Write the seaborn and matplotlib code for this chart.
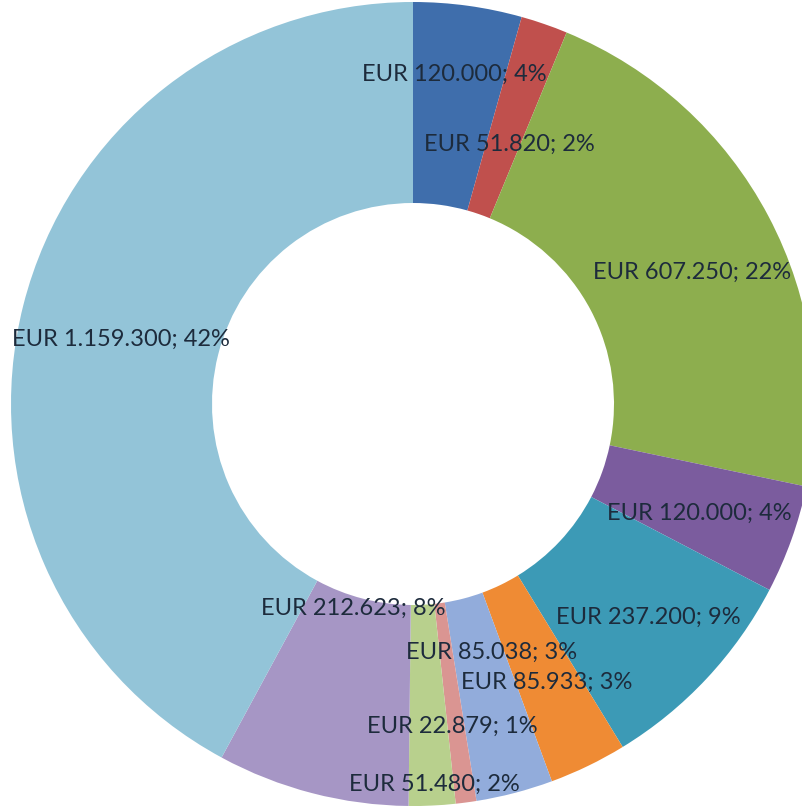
import numpy as np
import matplotlib
matplotlib.use("Agg")
import matplotlib.pyplot as plt
import seaborn as sns

# Values (clockwise from top)
values = [120000, 51820, 607250, 120000, 237200, 85933, 85038, 22879, 51480, 212623, 1159300]
colors = ["#3F6EAC", "#C0504D", "#8DAE4E", "#7B5C9E", "#3C9AB6", "#EF8B34",
          "#92ACDB", "#DA9592", "#B8D08D", "#A696C5", "#93C4D8"]

# label nudges in pixels (dx, dy) from the ring centre of each slice
label_nudge = [(0, 31), (-2, -25), (12, -9), (2, -8), (15, -8), (2, -7),
               (2, 43), (-1, -23), (7, -79), (16, 88), (0, -9)]

sns.set_style("white")
plt.rcParams["font.family"] = ["Lato", "DejaVu Sans"]

fig = plt.figure(figsize=(8.03, 8.08), dpi=100)
ax = fig.add_axes([0, 0, 1, 1])

R_px = 402
cx, cy = 413, 404
inner = 0.5

wedges, _ = ax.pie(values, colors=colors, startangle=90, counterclock=False,
                   radius=1.0, wedgeprops=dict(width=1 - inner, linewidth=0))

total = sum(values)
mid_r = (1 + inner) / 2
for w, v, (dx, dy) in zip(wedges, values, label_nudge):
    ang = np.deg2rad((w.theta1 + w.theta2) / 2)
    x, y = mid_r * np.cos(ang), mid_r * np.sin(ang)
    txt = "EUR {:,}; {:.0f}%".format(v, v / total * 100).replace(",", ".")
    ax.annotate(txt, xy=(x, y), xytext=(dx, dy), textcoords="offset pixels",
                ha="center", va="center", fontsize=17, color="#1D2B3C")

ax.set_xlim(-cx / R_px, (803 - cx) / R_px)
ax.set_ylim(-(808 - cy) / R_px, cy / R_px)
ax.set_aspect("equal")
ax.axis("off")

fig.savefig("out.png", dpi=100)
